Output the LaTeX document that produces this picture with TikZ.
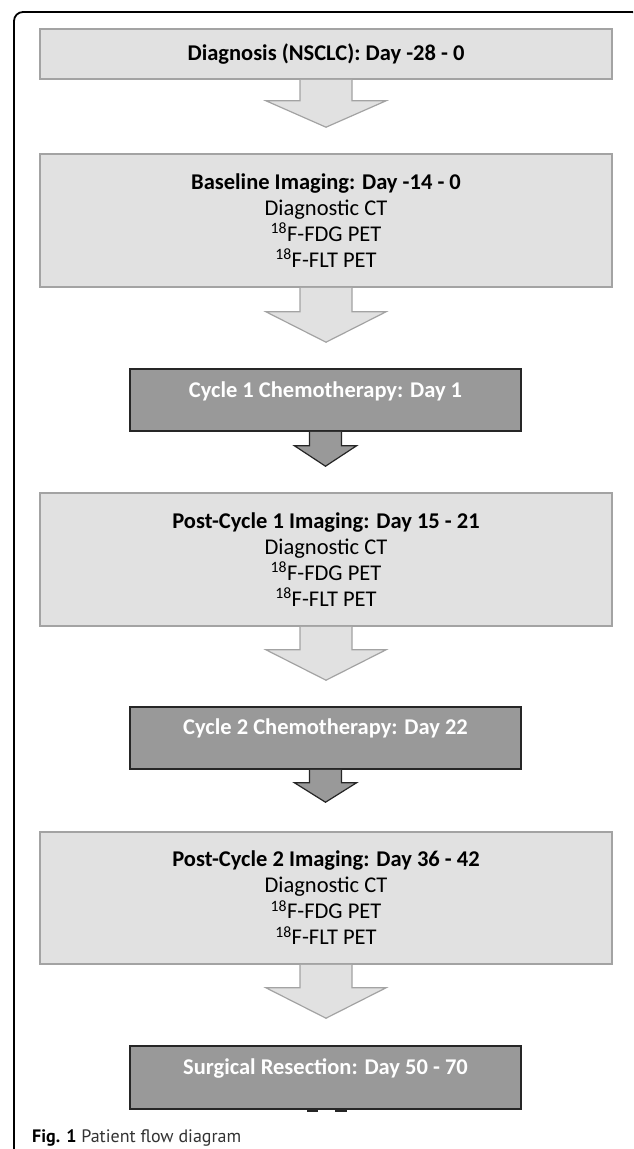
\documentclass[tikz,border=0pt]{standalone}
\usepackage{fontspec}
\setmainfont{Carlito}
\newfontfamily\capfont{PT Sans}
\usetikzlibrary{calc}
\definecolor{lightfill}{HTML}{E1E1E1}
\definecolor{lightline}{HTML}{A3A3A3}
\definecolor{darkfill}{HTML}{999999}
\definecolor{darkline}{HTML}{262626}
\definecolor{captext}{HTML}{333333}
\tikzset{
  lbox/.style={draw=lightline, fill=lightfill, line width=1.6pt, minimum width=572pt, inner sep=0pt, align=center, font=\fontsize{22.5}{26}\selectfont},
  dbox/.style={draw=darkline, fill=darkfill, line width=1.6pt, minimum width=391pt, inner sep=0pt},
  dtext/.style={text=white, inner sep=0pt, font=\bfseries\fontsize{22.5}{26}\selectfont},
  lafill/.style={fill=lightfill},
  laline/.style={draw=lightline, line width=1.2pt, line join=miter},
  dafill/.style={fill=darkfill},
  daline/.style={draw=darkline, line width=1.2pt, line join=miter},
  frame/.style={draw=black, line width=1.8pt, rounded corners=9pt},
}
% #1 source, #2 target, #3 shaft half width, #4 head half width, #5 shaft length, #6 gap to target, #7 style prefix
\newcommand{\myblockarrow}[7]{%
  \path[#7fill] let \p1=(#1.south), \p2=(#2.north) in
    (\x1-#3pt,\y1) -- (\x1-#3pt,\y1-#5pt) -- (\x1-#4pt,\y1-#5pt) -- (\x1,\y2+#6pt)
    -- (\x1+#4pt,\y1-#5pt) -- (\x1+#3pt,\y1-#5pt) -- (\x1+#3pt,\y1) -- cycle;
  \path[#7line] let \p1=(#1.south), \p2=(#2.north) in
    (\x1-#3pt,\y1) -- (\x1-#3pt,\y1-#5pt) -- (\x1-#4pt,\y1-#5pt) -- (\x1,\y2+#6pt)
    -- (\x1+#4pt,\y1-#5pt) -- (\x1+#3pt,\y1-#5pt) -- (\x1+#3pt,\y1);
}
\begin{document}
\begin{tikzpicture}[x=1pt, y=-1pt]
\useasboundingbox (0,0) rectangle (633,1149);
\clip (0,0) rectangle (633,1149);
\fill[white] (0,0) rectangle (633,1149);
\draw[frame] (14,1170) -- (14,12) -- (641,12) -- (641,1170);

\node[lbox, minimum height=50pt] (b1) at (326,54) {\textbf{Diagnosis (NSCLC): Day -28 - 0}};
\node[lbox, minimum height=133pt] (b2) at (326,220.5) {\textbf{Baseline Imaging: Day -14 - 0}\\Diagnostic CT\\\textsuperscript{18}F-FDG PET\\\textsuperscript{18}F-FLT PET};
\node[dbox, minimum height=62pt] (b3) at (325.5,400) {};
\node[dtext] (t3) at ($(b3.north)+(0,23)$) {Cycle 1 Chemotherapy: Day 1};
\node[lbox, minimum height=133pt] (b4) at (326,559.5) {\textbf{Post-Cycle 1 Imaging: Day 15 - 21}\\Diagnostic CT\\\textsuperscript{18}F-FDG PET\\\textsuperscript{18}F-FLT PET};
\node[dbox, minimum height=62pt] (b5) at (325.5,738) {};
\node[dtext] (t5) at ($(b5.north)+(0,22)$) {Cycle 2 Chemotherapy: Day 22};
\node[lbox, minimum height=132pt] (b6) at (326,898) {\textbf{Post-Cycle 2 Imaging: Day 36 - 42}\\Diagnostic CT\\\textsuperscript{18}F-FDG PET\\\textsuperscript{18}F-FLT PET};
\node[dbox, minimum height=63pt] (b7) at (325.5,1077.5) {};
\node[dtext] (t7) at ($(b7.north)+(0,23)$) {Surgical Resection: Day 50 - 70};

\myblockarrow{b1}{b2}{26}{60}{21}{26}{la}
\myblockarrow{b2}{b3}{26}{60}{24}{26}{la}
\myblockarrow{b3}{b4}{16}{31}{14}{26}{da}
\myblockarrow{b4}{b5}{26}{60}{23}{26}{la}
\myblockarrow{b5}{b6}{16}{31}{13}{29}{da}
\myblockarrow{b6}{b7}{26}{60}{23}{27}{la}

\fill[darkline] ($(b7.south)+(-18.5,0)$) rectangle ++(11,2);
\fill[darkline] ($(b7.south)+(9.5,0)$) rectangle ++(11.5,2);

\node[anchor=base west, inner sep=0pt, font=\capfont\fontsize{18}{20}\selectfont] (cap) at (32,1142) {\textbf{Fig. 1} \textcolor{captext}{Patient flow diagram}};
\end{tikzpicture}
\end{document}
